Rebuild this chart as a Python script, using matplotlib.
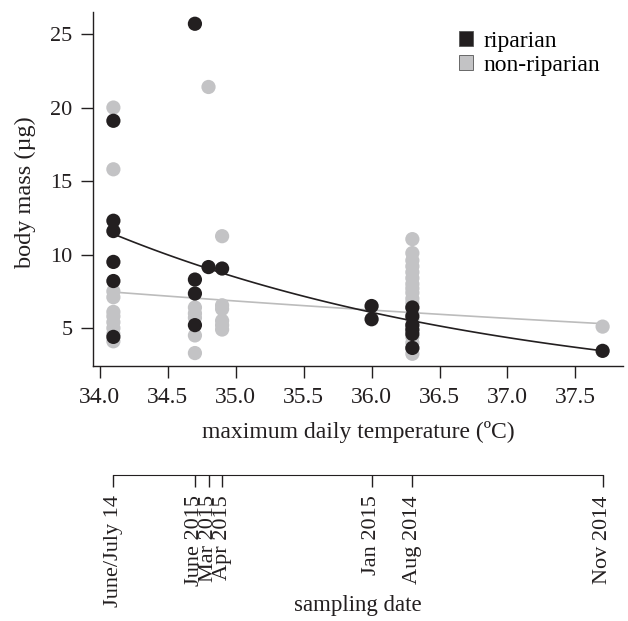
import numpy as np
import matplotlib
matplotlib.use("Agg")
import matplotlib.pyplot as plt
from matplotlib.patches import Patch

plt.rcParams['font.family'] = ['Liberation Serif', 'DejaVu Serif']
plt.rcParams['font.size'] = 16

# ---- data ----
rip_temp = [34.1, 34.1, 34.1, 34.1, 34.1, 34.1,
            34.7, 34.7, 34.7, 34.7, 34.8, 34.9,
            36.0, 36.0,
            36.3, 36.3, 36.3, 36.3, 36.3, 36.3,
            37.7]
rip_mass = [19.1, 12.3, 11.6, 9.5, 8.2, 4.4,
            25.7, 8.3, 7.35, 5.2, 9.15, 9.05,
            6.5, 5.6,
            6.4, 5.8, 5.2, 4.9, 4.6, 3.65,
            3.45]

non_temp = [34.1] * 10 + [34.7] * 5 + [34.8] + [34.9] * 6 + [36.3] * 20 + [37.7]
non_mass = [20.0, 15.8, 7.5, 7.1, 6.1, 5.8, 5.4, 5.0, 4.6, 4.1,
            6.4, 6.0, 5.7, 4.5, 3.3,
            21.4,
            11.25, 6.55, 6.3, 5.5, 5.2, 4.9,
            11.05, 10.1, 9.6, 9.2, 8.8, 8.4, 8.0, 7.7, 7.4, 7.0,
            6.7, 6.4, 6.0, 5.6, 5.2, 4.8, 4.4, 4.0, 3.6, 3.25,
            5.1]

# fitted exponential models: mass = a * exp(b * (T - 34.1))
rip_fit = [11.4, -0.3317]
non_fit = [7.45, -0.0946]
fit_range = [34.1, 37.7]

date_pos = [34.1, 34.7, 34.8, 34.9, 36.0, 36.3, 37.7]
date_labels = ['June/July 14', 'June 2015', 'Mar 2015', 'Apr 2015',
               'Jan 2015', 'Aug 2014', 'Nov 2014']

x_ticks = [34.0, 34.5, 35.0, 35.5, 36.0, 36.5, 37.0, 37.5]
y_ticks = [5, 10, 15, 20, 25]

BLACK = '#231f20'
GREY = '#c3c3c5'
GREYLINE = '#bcbcbc'

W, H = 628, 621
fig = plt.figure(figsize=(W / 100, H / 100), dpi=100)

left, right = 93 / W, 623 / W
bottom, top = 1 - 366 / H, 1 - 12 / H
ax = fig.add_axes([left, bottom, right - left, top - bottom])

xlim = (33.95, 37.85)
ax.set_xlim(*xlim)
ax.set_ylim(2.42, 26.5)

ax.scatter(non_temp, non_mass, s=105, color=GREY, edgecolors='none', zorder=3)
ax.scatter(rip_temp, rip_mass, s=105, color=BLACK, edgecolors='none', zorder=4)

tt = np.linspace(fit_range[0], fit_range[1], 100)
ax.plot(tt, non_fit[0] * np.exp(non_fit[1] * (tt - fit_range[0])),
        color=GREYLINE, lw=1.2, zorder=2)
ax.plot(tt, rip_fit[0] * np.exp(rip_fit[1] * (tt - fit_range[0])),
        color=BLACK, lw=1.2, zorder=5)

for s in ['top', 'right']:
    ax.spines[s].set_visible(False)
for s in ['left', 'bottom']:
    ax.spines[s].set_color(BLACK)
    ax.spines[s].set_linewidth(1.0)

ax.set_xticks(x_ticks)
ax.set_xticklabels([f'{v:.1f}' for v in x_ticks])
ax.set_yticks(y_ticks)
ax.set_yticklabels([str(v) for v in y_ticks])
ax.tick_params(axis='both', direction='out', length=8.6, width=1.0,
               color=BLACK, labelcolor=BLACK)
ax.tick_params(axis='x', pad=6.5, labelsize=17)
ax.tick_params(axis='y', pad=6, labelsize=16)

fig.text(358 / W, 1 - 432 / H, 'maximum daily temperature (ºC)', fontsize=17,
         color=BLACK, ha='center', va='center')
fig.text(25 / W, 1 - 192 / H, 'body mass (µg)', fontsize=17.5, color=BLACK,
         ha='center', va='center', rotation=90)

# legend
handles = [Patch(facecolor=BLACK, edgecolor='#555555', lw=0.6, label='riparian'),
           Patch(facecolor=GREY, edgecolor='#555555', lw=0.6, label='non-riparian')]
leg = ax.legend(handles=handles, loc='upper left',
                bbox_to_anchor=(459 / W, 1 - 31 / H), bbox_transform=fig.transFigure,
                frameon=False, fontsize=17, handlelength=0.6, handleheight=0.6,
                handletextpad=0.45, labelspacing=0.12, borderpad=0, borderaxespad=0)

# secondary date axis
ax2_y = 1 - 475 / H
ax2 = fig.add_axes([left, ax2_y, right - left, 0.001])
ax2.set_xlim(*xlim)
ax2.patch.set_visible(False)
for s in ['top', 'right', 'left']:
    ax2.spines[s].set_visible(False)
ax2.spines['bottom'].set_bounds(date_pos[0], date_pos[-1])
ax2.spines['bottom'].set_color(BLACK)
ax2.set_yticks([])
ax2.set_xticks(date_pos)
ax2.set_xticklabels(date_labels, rotation=90, va='top', ha='center')
ax2.tick_params(axis='x', direction='out', length=8.6, width=1.0, color=BLACK,
                labelcolor=BLACK, labelsize=16, pad=6)

fig.text(358 / W, 1 - 605 / H, 'sampling date', fontsize=16.5, color=BLACK,
         ha='center', va='center')

fig.savefig('out.png', dpi=100)
